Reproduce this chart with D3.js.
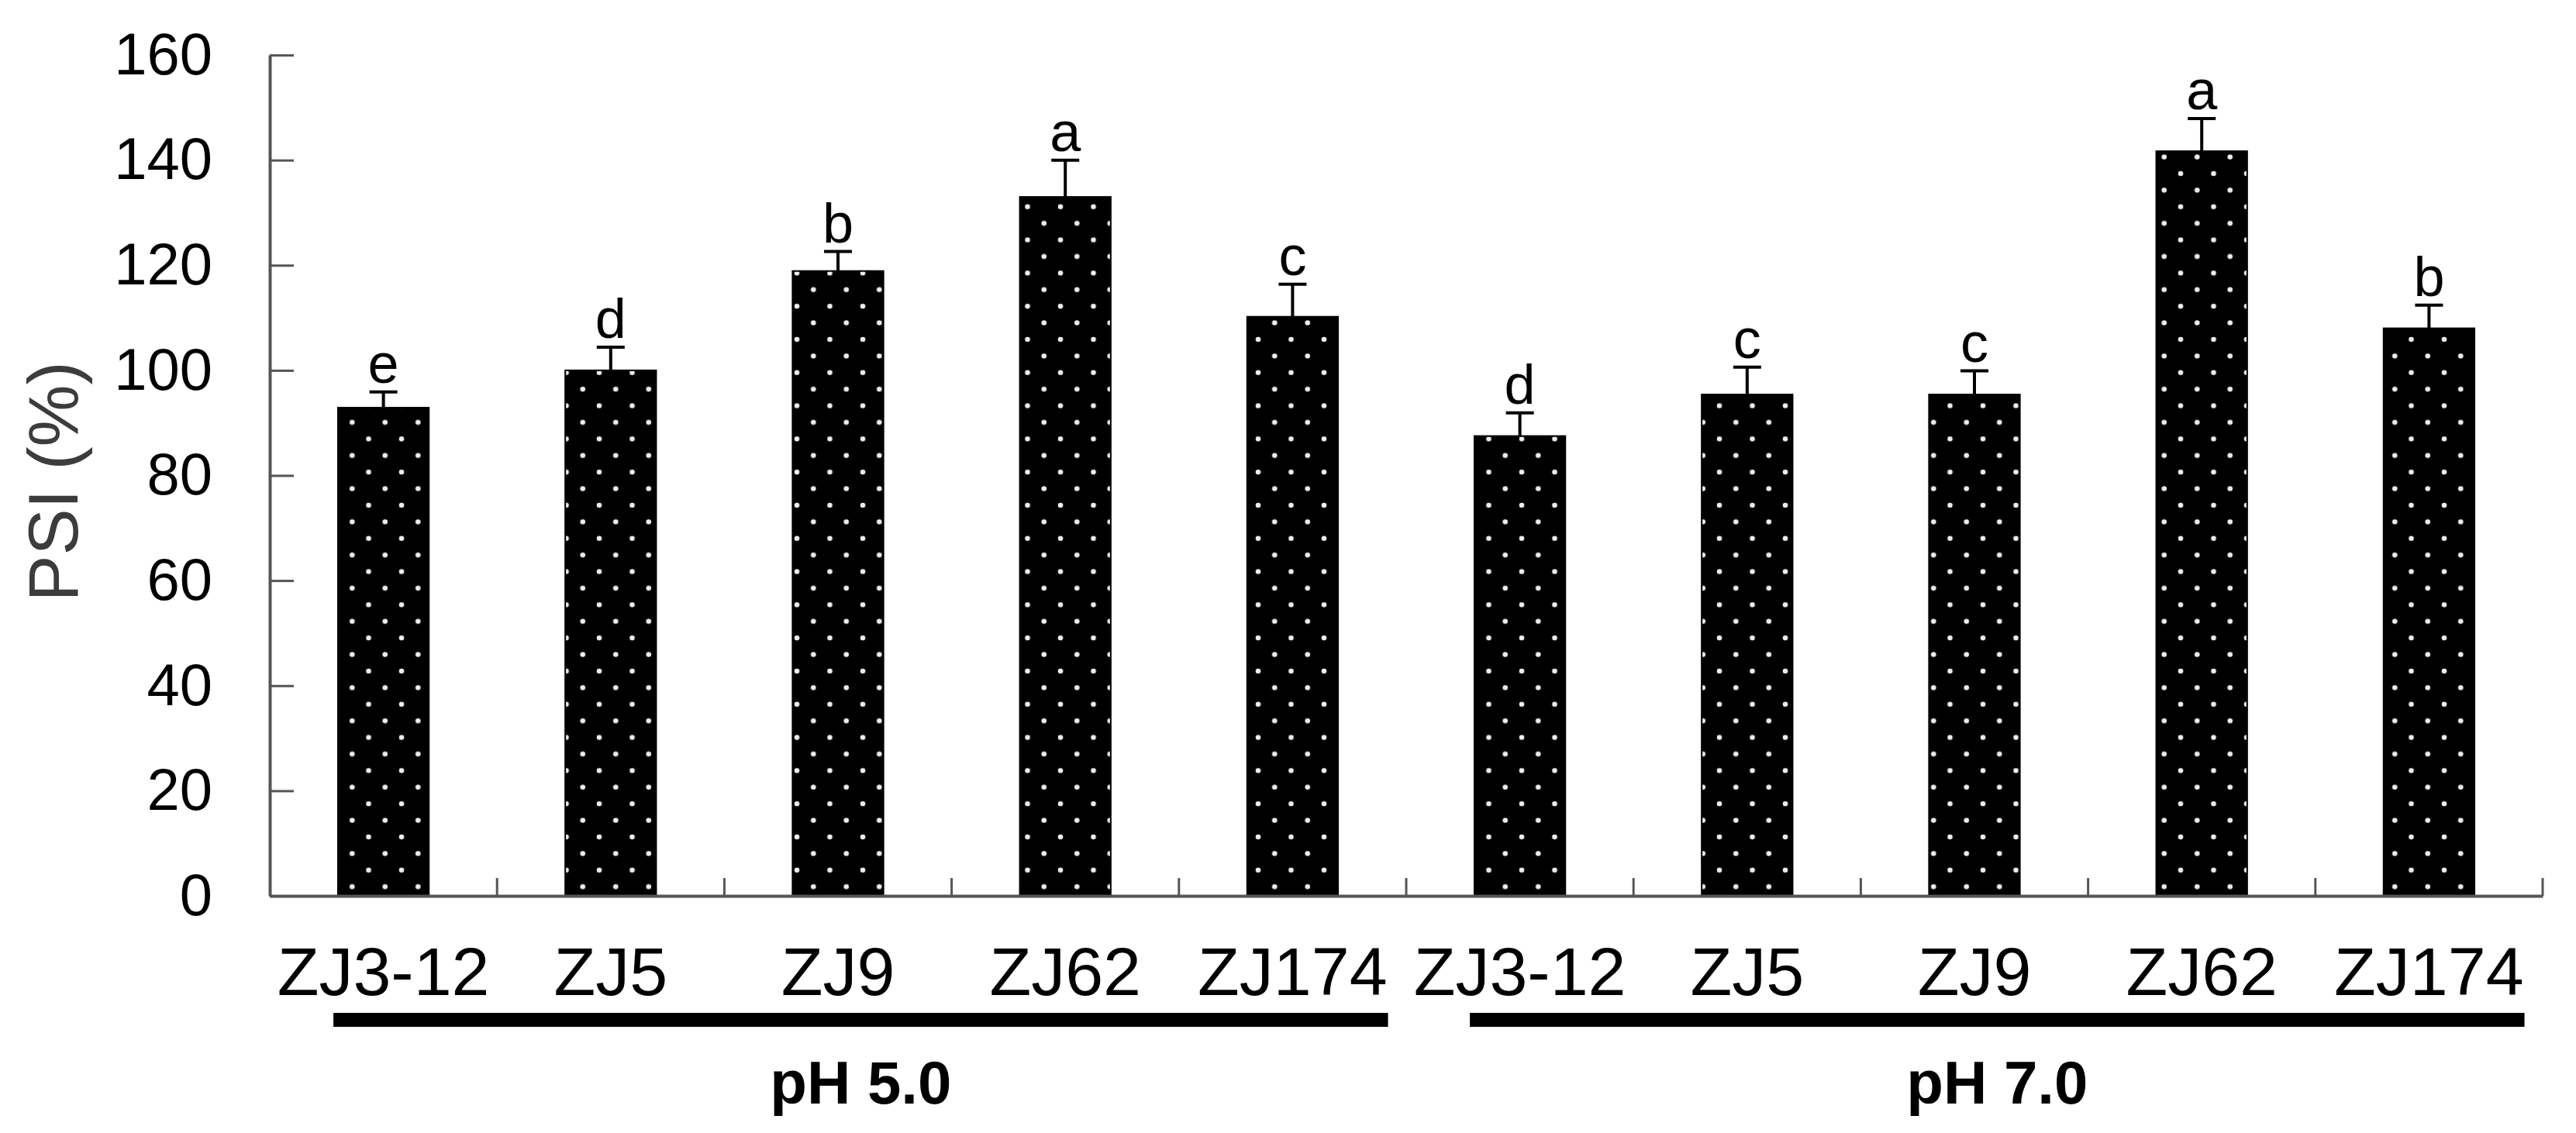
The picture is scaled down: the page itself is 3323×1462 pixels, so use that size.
<!DOCTYPE html>
<html lang="en">
<head>
    <meta charset="UTF-8">
    <title>PSI</title>
    <script src="https://cdn.jsdelivr.net/npm/d3@7"></script>
    <style>
        body {
            margin: 0;
            background: #fff;
        }

        text {
            font-family: "Liberation Sans", Arial, sans-serif;
        }
    </style>
</head>
<body>
<svg id="graphDiv"></svg>
<script>
    // data
    var groups = ["pH 5.0", "pH 7.0"];
    var strains = ["ZJ3-12", "ZJ5", "ZJ9", "ZJ62", "ZJ174"];
    var psiPH5 = [92.9, 100.0, 118.9, 133.0, 110.2];
    var psiPH7 = [87.5, 95.4, 95.4, 141.7, 108.0];
    var errPH5 = [3.0, 4.4, 3.7, 7.0, 6.2];
    var errPH7 = [4.4, 5.2, 4.5, 6.2, 4.4];
    var letterPH5 = ["e", "d", "b", "a", "c"];
    var letterPH7 = ["d", "c", "c", "a", "b"];
    var yTicks = [0, 20, 40, 60, 80, 100, 120, 140, 160];

    function drawChart() {
        var W = 3323, H = 1462;
        var pLeft = 348, pRight = 3280, pTop = 71, pBottom = 1156;

        var rows = [];
        var vals = [psiPH5, psiPH7], errs = [errPH5, errPH7], lets = [letterPH5, letterPH7];
        for (var g = 0; g < groups.length; g++) {
            for (var i = 0; i < strains.length; i++) {
                rows.push({
                    key: groups[g] + "|" + strains[i],
                    group: groups[g],
                    strain: strains[i],
                    value: vals[g][i],
                    err: errs[g][i],
                    letter: lets[g][i]
                });
            }
        }

        var svg = d3.select("#graphDiv")
            .attr("width", W)
            .attr("height", H);

        svg.append("rect").attr("width", W).attr("height", H).attr("fill", "#fff");

        // dotted fill
        var pat = svg.append("defs").append("pattern")
            .attr("id", "dots")
            .attr("patternUnits", "userSpaceOnUse")
            .attr("width", 42.5)
            .attr("height", 42.8);
        pat.append("rect").attr("width", 42.5).attr("height", 42.8).attr("fill", "#000");
        pat.append("circle").attr("cx", 8).attr("cy", 10).attr("r", 3.3).attr("fill", "#eeeeee");
        pat.append("circle").attr("cx", 29.25).attr("cy", 31.4).attr("r", 3.3).attr("fill", "#eeeeee");

        var x = d3.scaleBand()
            .domain(rows.map(function (d) { return d.key; }))
            .range([pLeft, pRight]);
        var y = d3.scaleLinear().domain([0, 160]).range([pBottom, pTop]);
        var bw = x.bandwidth();
        var barW = bw * 0.4;

        // bars
        svg.selectAll("rect.bar")
            .data(rows).enter().append("rect")
            .attr("class", "bar")
            .attr("x", function (d) { return x(d.key) + (bw - barW) / 2; })
            .attr("y", function (d) { return y(d.value); })
            .attr("width", barW)
            .attr("height", function (d) { return y(0) - y(d.value); })
            .attr("fill", "url(#dots)")
            .attr("stroke", "#000")
            .attr("stroke-width", 2);

        // error bars
        var eb = svg.selectAll("g.err").data(rows).enter().append("g").attr("class", "err")
            .attr("stroke", "#000").attr("stroke-width", 4);
        eb.append("line")
            .attr("x1", function (d) { return x(d.key) + bw / 2; })
            .attr("x2", function (d) { return x(d.key) + bw / 2; })
            .attr("y1", function (d) { return y(d.value); })
            .attr("y2", function (d) { return y(d.value + d.err); });
        eb.append("line")
            .attr("x1", function (d) { return x(d.key) + bw / 2 - 18; })
            .attr("x2", function (d) { return x(d.key) + bw / 2 + 18; })
            .attr("y1", function (d) { return y(d.value + d.err); })
            .attr("y2", function (d) { return y(d.value + d.err); });

        // significance letters
        svg.selectAll("text.sig").data(rows).enter().append("text")
            .attr("class", "sig")
            .attr("x", function (d) { return x(d.key) + bw / 2; })
            .attr("y", function (d) { return y(d.value + d.err) - 12; })
            .attr("text-anchor", "middle")
            .attr("font-size", 72)
            .attr("fill", "#000")
            .text(function (d) { return d.letter; });

        // y axis, ticks pointing inward
        var yAxis = svg.append("g")
            .attr("transform", "translate(" + pLeft + ",0)")
            .call(d3.axisLeft(y).tickValues(yTicks).tickSizeInner(-31).tickSizeOuter(0).tickPadding(74));
        yAxis.select(".domain").attr("stroke", "#555").attr("stroke-width", 4);
        yAxis.selectAll(".tick line").attr("stroke", "#555").attr("stroke-width", 3);
        yAxis.selectAll(".tick text")
            .attr("font-size", 76)
            .attr("font-family", "'Liberation Sans', Arial, sans-serif")
            .attr("fill", "#000");

        // x axis
        var xAxis = svg.append("g")
            .attr("transform", "translate(0," + pBottom + ")")
            .call(d3.axisBottom(x).tickSize(0).tickSizeOuter(0).tickPadding(66)
                .tickFormat(function (k) { return k.split("|")[1]; }));
        xAxis.select(".domain").attr("stroke", "#555").attr("stroke-width", 4);
        xAxis.selectAll(".tick text")
            .attr("font-size", 88)
            .attr("font-family", "'Liberation Sans', Arial, sans-serif")
            .attr("fill", "#000");

        // category separators on the x axis
        var seps = d3.range(1, rows.length + 1).map(function (i) { return pLeft + i * bw; });
        svg.selectAll("line.sep").data(seps).enter().append("line")
            .attr("class", "sep")
            .attr("x1", function (d) { return d; })
            .attr("x2", function (d) { return d; })
            .attr("y1", pBottom)
            .attr("y2", pBottom - 23)
            .attr("stroke", "#555")
            .attr("stroke-width", 3);

        // group underline + label
        groups.forEach(function (g) {
            var keys = rows.filter(function (d) { return d.group == g; }).map(function (d) { return d.key; });
            var x1 = x(keys[0]) + bw * 0.28;
            var x2 = x(keys[keys.length - 1]) + bw * 0.92;
            svg.append("line")
                .attr("x1", x1).attr("x2", x2)
                .attr("y1", 1316).attr("y2", 1316)
                .attr("stroke", "#000")
                .attr("stroke-width", 18);
            svg.append("text")
                .attr("x", (x1 + x2) / 2)
                .attr("y", 1424)
                .attr("text-anchor", "middle")
                .attr("font-size", 78)
                .attr("font-weight", "bold")
                .attr("fill", "#000")
                .text(g);
        });

        // y title
        svg.append("text")
            .attr("transform", "translate(100," + ((pTop + pBottom) / 2 + 8) + ") rotate(-90)")
            .attr("text-anchor", "middle")
            .attr("font-size", 90)
            .attr("fill", "#3c3c3c")
            .text("PSI (%)");
    }

    drawChart();
</script>
</body>
</html>
